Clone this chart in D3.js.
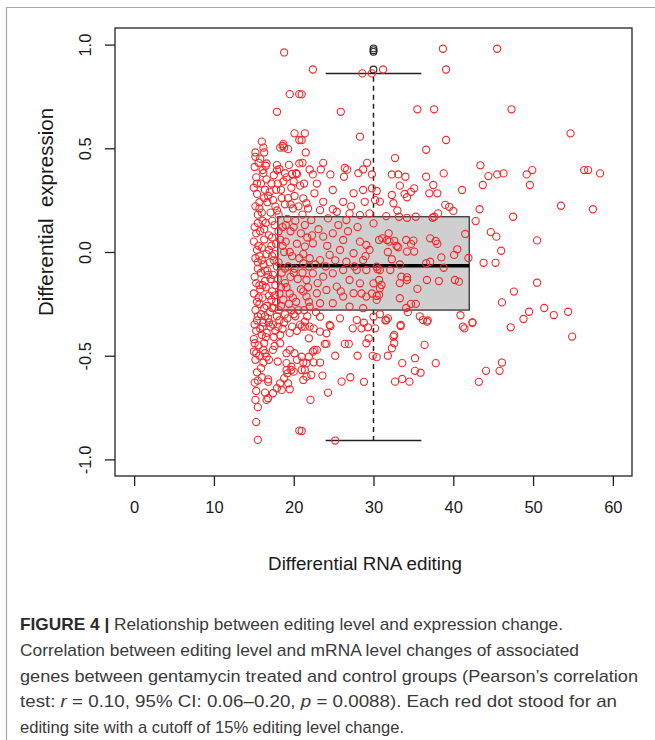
<!DOCTYPE html>
<html><head><meta charset="utf-8">
<script src="https://cdn.jsdelivr.net/npm/d3@7"></script>
<style>
html,body{margin:0;padding:0;background:#fff;}
svg{display:block;font-family:"Liberation Sans",Arial,sans-serif;}
</style></head>
<body>
<svg id="chart" width="655" height="740"></svg>
<script>
// ---------- data ----------
const xTicks = [0, 10, 20, 30, 40, 50, 60];
const xTickLabels = ["0", "10", "20", "30", "40", "50", "60"];
const yTicks = [-1, -0.5, 0, 0.5, 1];
const yTickLabels = ["-1.0", "-0.5", "0.0", "0.5", "1.0"];
const xTitle = "Differential RNA editing";
const yTitle = "Differential  expression";

// box plot of differential expression, drawn at editing = 30
const boxPosition = 30;
const boxQuartiles = [-0.28, -0.066, 0.17];   // Q1, median, Q3
const boxWhiskers = [-0.909, 0.861];
const boxOutliers = [0.88, 0.965, 0.973, 0.982];

// editing sites: [differential RNA editing, differential expression]
const sitesSparse = [
[22.4,0.88],[21.0,0.76],[25.9,0.676],[28.6,0.861],[29.8,0.861],[31.2,0.88],[38.7,0.98],[39.1,0.88],[45.5,0.98],[35.5,0.688],[37.6,0.688],[47.3,0.688],[54.7,0.572],[21.4,0.572],[21.0,0.54],[28.3,0.556],[39.1,0.54],[36.6,0.493],[21.5,0.48],[32.7,0.453],[43.4,0.418],[23.7,0.43],[21.1,0.43],[29.2,0.43],[26.4,0.405],[26.7,0.397],[28.7,0.398],[22.0,0.398],[23.4,0.398],[38.8,0.379],[56.4,0.395],[56.9,0.395],[58.4,0.379],[49.9,0.395],[49.2,0.374],[46.3,0.379],[45.5,0.374],[44.4,0.366],[36.6,0.363],[32.3,0.374],[33.1,0.374],[34.0,0.363],[28.1,0.38],[29.8,0.374],[24.6,0.374],[26.3,0.363],[22.4,0.374],
[53.5,0.223],[57.5,0.206],[47.5,0.17],[50.5,0.056],[50.5,-0.148],[47.6,-0.191],[46.1,-0.243],[51.4,-0.27],[54.4,-0.288],[52.6,-0.304],[49.5,-0.288],[48.8,-0.323],[47.2,-0.363],[44.7,0.096],[45.4,0.074],[46.0,0.006],[43.8,-0.052],[45.3,-0.052],[43.3,0.206],[42.8,0.149],[43.7,0.323],[41.1,0.299],[49.6,0.323],[41.5,0.087],[41.9,-0.029],[40.9,-0.305],[42.4,-0.339],[41.2,-0.36],
[37.5,0.323],[38.0,0.283],[37.0,0.283],[39.0,0.227],[39.5,0.218],[40.0,0.198],[37.6,0.17],[38.1,0.186],[35.1,0.307],[34.7,0.29],[33.9,0.28],[33.3,0.32],[32.3,0.275],[34.2,0.264],[30.8,0.243],[32.5,0.235],[33.0,0.2],[31.6,0.173],[33.2,0.17],[34.2,0.165],[35.3,0.17],[37.4,0.165],[30.4,0.294],
[37.1,0.066],[37.8,0.053],[38.0,0.039],[40.5,0.013],[40.1,-0.014],[38.5,-0.026],[38.8,-0.076],[40.2,-0.135],[40.7,-0.143],[38.2,-0.14],[36.7,-0.135],[37.1,-0.047],[36.6,-0.054],[35.5,-0.178],[33.3,-0.223],[34.7,-0.25],[35.3,-0.25],[34.1,-0.27],[34.3,-0.29],[35.8,-0.31],[36.8,-0.33],[31.8,-0.32],[31.5,-0.33],[33.4,-0.352],[30.8,-0.30],[34.2,-0.135],[33.3,-0.15],[34.2,-0.122],[33.5,-0.119],[34.1,0.058],[34.2,0.002],[35.1,0.002],[34.7,0.039],[35.0,0.055],[31.9,0.09],[31.7,0.058],[32.0,0.05],[32.6,0.054],[33.1,0.023],[32.9,0.029],[30.7,0.058],[31.1,0.066],[31.8,0.0],[32.1,-0.087],[33.3,-0.06],[32.3,-0.035],[30.8,-0.087],[30.5,-0.083],[30.7,-0.135],[31.0,-0.159],[29.8,-0.2],[30.4,-0.212],[30.7,-0.207],
[30.2,-0.368],[29.3,-0.363],[28.5,-0.368],[27.4,-0.368],[28.8,-0.341],[24.6,-0.357],[24.1,-0.392],[23.3,-0.384],[22.5,-0.368],[22.0,-0.36],[21.4,-0.36],[21.0,-0.36],[21.9,-0.416],[24.1,-0.443],[23.9,-0.443],[22.6,-0.472],[22.9,-0.472],[22.4,-0.48],[25.2,-0.5],[21.0,-0.505],[21.9,-0.505],[22.5,-0.532],[23.3,-0.533],[21.6,-0.536],[21.2,-0.533],[21.4,-0.569],[21.0,-0.569],[22.2,-0.593],[21.6,-0.601],[21.2,-0.617],[23.6,-0.596],[26.0,-0.625],[27.1,-0.604],[28.8,-0.626],[24.3,-0.678],[22.1,-0.713],[21.0,-0.863],[25.2,-0.909],[26.4,-0.443],[26.9,-0.443],[28.0,-0.5],[29.1,-0.44],[29.4,-0.416],[29.9,-0.501],[30.4,-0.507],[31.8,-0.5],[32.3,-0.464],[32.6,-0.44],[32.6,-0.4],[32.5,-0.408],[33.4,-0.357],[36.4,-0.448],[35.2,-0.512],[33.6,-0.536],[35.2,-0.573],[35.9,-0.582],[37.8,-0.536],[32.7,-0.625],[33.6,-0.612],[34.5,-0.625],[31.6,-0.328],[36.2,-0.328],[36.7,-0.336],[41.4,-0.368],[42.4,-0.341],[54.9,-0.408],[46.1,-0.533],[44.1,-0.573],[45.8,-0.573],[43.2,-0.626],
[18.8,0.962],[19.5,0.761],[20.7,0.761],[17.9,0.676],[20.1,0.572],[20.7,0.54],[16.0,0.532],[16.2,0.503],[15.2,0.48],[15.2,0.459],[16.3,0.48],[18.3,0.503],[18.7,0.52],[18.8,0.503],[19.3,0.496],[18.6,0.511],[16.6,0.427],[16.5,0.416],[16.1,0.395],[17.9,0.419],[17.9,0.395],[19.8,0.376],[20.4,0.376],[20.7,0.427],
[15.3,-0.82],[15.5,-0.906],[15.2,-0.713],[15.5,-0.748],[15.1,-0.44],[15.0,-0.48],[15.3,-0.488],[16.0,-0.604],[16.8,-0.614],[16.8,-0.626],[16.4,-0.678],[16.8,-0.705],[16.6,-0.713],[17.4,-0.681],[17.9,-0.657],[18.5,-0.665],[19.5,-0.662],[19.3,-0.633],[18.3,-0.633],[18.8,-0.609],[19.7,-0.569],[19.1,-0.569],[20.0,-0.577],[19.2,-0.585],[18.0,-0.528],[16.9,-0.52],[16.2,-0.533],[17.6,-0.453],[18.3,-0.44],[17.4,-0.472],[16.6,-0.505],[16.2,-0.472],[16.4,-0.488],[19.1,-0.536],[19.7,-0.553],[20.1,-0.488],[20.4,-0.52],[19.5,-0.472],[19.1,-0.488],[20.7,-0.861]
];
const sitesMiddle = [
[22.6,0.283],[24.9,0.299],[26.2,0.242],[27.5,0.283],[28.7,0.299],[29.8,0.307],[30.2,0.25],[28.9,0.242],[23.7,0.242],[21.6,0.235],[21.2,0.259],[23.3,0.202],[24.9,0.206],[25.4,0.194],[27.0,0.186],[28.3,0.178],[26.6,0.154],[24.3,0.162],[22.2,0.154],[21.4,0.13],[29.5,0.186],[30.0,0.138],
[24.9,0.09],[26.2,0.058],[23.7,0.074],[22.4,0.042],[21.4,0.026],[28.3,0.05],[29.1,0.034],[29.5,0.01],[27.5,-0.006],[25.8,0.01],[24.5,-0.014],[23.3,-0.039],[22.0,-0.03],[21.2,-0.054],[26.6,-0.047],[28.7,-0.039],[30.4,-0.071],[29.1,-0.087],[27.9,-0.087],[26.2,-0.087],[24.9,-0.103],[23.7,-0.119],[22.4,-0.103],[21.6,-0.135],[27.0,-0.135],[28.3,-0.151],[30.0,-0.151],[30.8,-0.175],[25.4,-0.167],[24.1,-0.183],[22.9,-0.199],[21.6,-0.215],[26.2,-0.215],[27.5,-0.199],[29.1,-0.215],[30.4,-0.231],[23.3,-0.247],[24.9,-0.247],[27.0,-0.264],[28.7,-0.271],[22.0,-0.264],
[23.3,-0.312],[25.8,-0.32],[27.9,-0.328],[30.0,-0.312],[21.4,-0.336],[24.5,-0.352]
];
const sitesDense = [
[15.1,0.41],[15.3,0.36],[15.0,0.31],[15.4,0.28],[15.2,0.22],[15.5,0.18],[15.1,0.12],[15.3,0.09],[15.0,0.05],[15.4,0.01],[15.2,-0.03],[15.5,-0.08],[15.1,-0.12],[15.3,-0.15],[15.0,-0.2],[15.4,-0.24],[15.2,-0.28],[15.5,-0.31],[15.1,-0.35],[15.3,-0.38],[15.0,-0.42],[15.2,-0.52],[15.4,-0.58],[15.1,-0.63],[15.3,-0.67],
[15.8,0.45],[16.2,0.38],[15.9,0.33],[16.3,0.26],[15.7,0.21],[16.1,0.15],[15.8,0.1],[16.3,0.06],[16.0,0.02],[15.7,-0.02],[16.2,-0.06],[15.9,-0.1],[16.4,-0.14],[15.8,-0.18],[16.1,-0.22],[15.7,-0.25],[16.3,-0.27],[15.9,-0.3],[16.2,-0.34],[15.8,-0.37],[16.0,-0.4],[16.3,-0.44],[15.9,-0.56],
[16.6,0.35],[17.0,0.29],[16.7,0.24],[17.1,0.19],[16.5,0.14],[16.9,0.08],[17.2,0.03],[16.6,-0.01],[17.0,-0.05],[16.7,-0.09],[17.1,-0.13],[16.5,-0.17],[16.9,-0.21],[17.2,-0.23],[16.6,-0.26],[17.0,-0.29],[16.8,-0.32],[17.1,-0.36],[16.6,-0.39],
[17.5,0.37],[17.8,0.3],[17.4,0.25],[17.9,0.2],[17.6,0.13],[17.3,0.07],[17.8,0.04],[17.5,-0.04],[17.9,-0.07],[17.4,-0.11],[17.7,-0.16],[17.3,-0.19],[17.8,-0.24],[17.5,-0.27],[17.9,-0.31],[17.4,-0.35],[17.7,-0.38],[17.5,-0.41],
[18.2,0.4],[18.7,0.34],[18.4,0.3],[18.9,0.23],[18.1,0.18],[18.6,0.12],[18.3,0.06],[18.8,0.0],[18.1,-0.05],[18.5,-0.1],[18.9,-0.15],[18.2,-0.2],[18.7,-0.23],[18.4,-0.26],[18.9,-0.3],[18.2,-0.33],[18.6,-0.37],[18.3,-0.4],
[19.4,0.42],[19.1,0.36],[19.7,0.31],[19.3,0.26],[19.9,0.21],[19.2,0.16],[19.6,0.1],[19.0,0.05],[19.8,-0.02],[19.3,-0.07],[19.6,-0.12],[19.1,-0.17],[19.9,-0.22],[19.4,-0.25],[19.7,-0.28],[19.2,-0.32],[19.8,-0.36],[19.5,-0.39],
[20.3,0.38],[20.8,0.32],[20.1,0.27],[20.6,0.22],[20.2,0.15],[20.9,0.09],[20.4,0.04],[20.7,-0.03],[20.1,-0.08],[20.5,-0.13],[20.9,-0.18],[20.3,-0.24],[20.6,-0.28],[20.2,-0.31],[20.8,-0.35],[20.4,-0.38],
[15.6,0.43],[15.4,0.33],[15.7,0.24],[15.5,0.14],[15.6,0.03],[15.5,-0.05],[15.7,-0.16],[15.6,-0.22],[15.4,-0.33],[15.6,-0.45],[15.7,-0.5],[15.5,-0.62],
[16.4,0.3],[16.0,0.19],[16.3,0.11],[16.0,-0.04],[16.4,-0.09],[16.1,-0.16],[16.4,-0.31],[16.1,-0.36],[16.5,-0.41],
[17.2,0.33],[16.8,0.27],[17.3,0.15],[16.9,0.01],[17.3,-0.02],[16.8,-0.11],[17.3,-0.27],[16.9,-0.34],
[18.0,0.33],[17.7,0.22],[18.1,0.1],[17.6,-0.01],[18.0,-0.13],[17.6,-0.21],[18.1,-0.28],[18.0,-0.36],
[18.9,0.38],[18.5,0.26],[19.0,0.13],[18.6,0.03],[18.9,-0.08],[18.4,-0.17],[18.8,-0.34],
[20.0,0.34],[19.6,0.23],[20.0,0.12],[19.5,0.0],[20.0,-0.1],[19.5,-0.2],[20.0,-0.3],
[21.3,0.33],[21.8,0.21],[21.1,0.18],[22.3,0.08],[21.7,0.07],[21.2,-0.01],[21.9,-0.07],[21.1,-0.1],[21.8,-0.17],[21.2,-0.19],[21.9,-0.24],[21.3,-0.28],[21.7,-0.31],
[22.9,0.33],[23.1,0.11],[22.7,-0.06],[23.0,-0.15],[22.8,-0.29],[24.2,0.03],[24.0,-0.07],[25.6,0.13],[25.2,-0.04],[25.9,-0.19],[26.8,0.1],[27.2,0.22],[27.6,-0.07],[28.0,0.12],[29.0,-0.02],[28.5,-0.2]
];
const sites = sitesSparse.concat(sitesMiddle, sitesDense);

const captionBold = "FIGURE 4 |";
const captionLines = [
  " Relationship between editing level and expression change.",
  "Correlation between editing level and mRNA level changes of associated",
  "genes between gentamycin treated and control groups (Pearson\u2019s correlation",
  "test: r = 0.10, 95% CI: 0.06\u20130.20, p = 0.0088). Each red dot stood for an",
  "editing site with a cutoff of 15% editing level change."
];

// ---------- drawing ----------
const svg = d3.select("#chart");
const L = 115, R = 632, T = 28, B = 476;
const x = d3.scaleLinear().domain([-2.4, 62.4]).range([L, R]);
const y = d3.scaleLinear().domain([-1.08, 1.08]).range([B, T]);

// figure frame (top + left rule)
svg.append("path").attr("d", "M6.5,740 L6.5,7.5 L655,7.5")
  .attr("fill", "none").attr("stroke", "#a8a8a8").attr("stroke-width", 1.2);

// box plot (drawn first, points on top)
const bx0 = x(boxPosition - 12), bx1 = x(boxPosition + 12);
const cx0 = x(boxPosition - 6), cx1 = x(boxPosition + 6);
const g = svg.append("g");
g.append("line").attr("x1", x(boxPosition)).attr("x2", x(boxPosition))
  .attr("y1", y(boxQuartiles[2])).attr("y2", y(boxWhiskers[1]))
  .attr("stroke", "#222").attr("stroke-width", 1.5).attr("stroke-dasharray", "5,4");
g.append("line").attr("x1", x(boxPosition)).attr("x2", x(boxPosition))
  .attr("y1", y(boxQuartiles[0])).attr("y2", y(boxWhiskers[0]))
  .attr("stroke", "#222").attr("stroke-width", 1.5).attr("stroke-dasharray", "5,4");
boxWhiskers.forEach(w => g.append("line").attr("x1", cx0).attr("x2", cx1)
  .attr("y1", y(w)).attr("y2", y(w)).attr("stroke", "#222").attr("stroke-width", 1.5));
g.append("rect").attr("x", bx0).attr("y", y(boxQuartiles[2]))
  .attr("width", bx1 - bx0).attr("height", y(boxQuartiles[0]) - y(boxQuartiles[2]))
  .attr("fill", "#cfcfcf").attr("stroke", "#333").attr("stroke-width", 1.3);
g.append("line").attr("x1", bx0).attr("x2", bx1)
  .attr("y1", y(boxQuartiles[1])).attr("y2", y(boxQuartiles[1]))
  .attr("stroke", "#000").attr("stroke-width", 3.5);
g.selectAll("circle.out").data(boxOutliers).join("circle")
  .attr("class", "out").attr("cx", x(boxPosition)).attr("cy", d => y(d)).attr("r", 3.4)
  .attr("fill", "none").attr("stroke", "#222").attr("stroke-width", 1.1);

// points
svg.append("g").selectAll("circle").data(sites).join("circle")
  .attr("cx", d => x(d[0])).attr("cy", d => y(d[1])).attr("r", 3.6)
  .attr("fill", "none").attr("stroke", "#f5282b").attr("stroke-width", 1.1);

// frame
svg.append("rect").attr("x", L).attr("y", T).attr("width", R - L).attr("height", B - T)
  .attr("fill", "none").attr("stroke", "#222").attr("stroke-width", 1.3);

// x axis
const xAxis = svg.append("g").attr("transform", `translate(0,${B})`)
  .call(d3.axisBottom(x).tickValues(xTicks).tickFormat((d, i) => xTickLabels[i])
    .tickSize(10).tickPadding(15));
xAxis.select(".domain").remove();
xAxis.selectAll("line").attr("stroke", "#222").attr("stroke-width", 1.3);
xAxis.selectAll("text").attr("font-size", 16.5).attr("fill", "#1a1a1a")
  .attr("font-family", "'Liberation Sans', Arial, sans-serif");

// y axis
const yAxis = svg.append("g").attr("transform", `translate(${L},0)`)
  .call(d3.axisLeft(y).tickValues(yTicks).tickFormat((d, i) => yTickLabels[i]).tickSize(10));
yAxis.select(".domain").remove();
yAxis.selectAll("line").attr("stroke", "#222").attr("stroke-width", 1.3);
yAxis.selectAll("text").attr("x", null).attr("dy", null)
  .attr("transform", "translate(-24,0) rotate(-90)")
  .attr("text-anchor", "middle").attr("font-size", 16.5).attr("fill", "#1a1a1a")
  .attr("font-family", "'Liberation Sans', Arial, sans-serif");

// titles
svg.append("text").attr("x", 365).attr("y", 570).attr("text-anchor", "middle")
  .attr("font-size", 18.8).attr("fill", "#1a1a1a").text(xTitle);
svg.append("text").attr("transform", "translate(53,212) rotate(-90)")
  .attr("text-anchor", "middle").attr("font-size", 20.5).attr("fill", "#1a1a1a")
  .attr("xml:space", "preserve").style("white-space", "pre").text(yTitle);

// caption
const capY0 = 630, capDy = 25.8;
const capWidths = [543, 559, 618, 597, 384];
captionLines.forEach((line, i) => {
  const t = svg.append("text").attr("x", 20).attr("y", capY0 + i * capDy)
    .attr("font-size", 17).attr("fill", "#3a3a3a")
    .attr("textLength", capWidths[i]).attr("lengthAdjust", "spacingAndGlyphs");
  if (i === 0) {
    t.append("tspan").attr("font-weight", "bold").attr("fill", "#2a2a2a").text(captionBold);
    t.append("tspan").text(line);
  } else if (i === 3) {
    t.append("tspan").text("test: ");
    t.append("tspan").attr("font-style", "italic").text("r");
    t.append("tspan").text(" = 0.10, 95% CI: 0.06\u20130.20, ");
    t.append("tspan").attr("font-style", "italic").text("p");
    t.append("tspan").text(" = 0.0088). Each red dot stood for an");
  } else {
    t.text(line);
  }
});
</script>
</body></html>
